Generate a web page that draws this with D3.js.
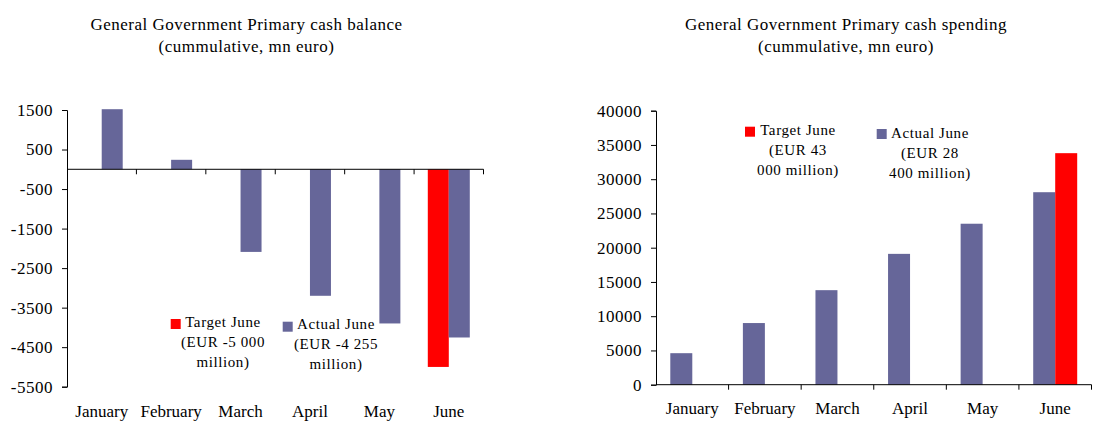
<!DOCTYPE html>
<html>
<head>
<meta charset="utf-8">
<script src="https://cdn.jsdelivr.net/npm/d3@7"></script>
<style>
  html, body { margin: 0; padding: 0; background: #fff; }
  svg { display: block; }
  svg text { font-family: "Liberation Serif", "Times New Roman", serif !important; fill: #000; }
</style>
</head>
<body>
<svg id="chart" width="1106" height="421" font-family="Liberation Serif"></svg>
<script>
const months = ["January", "February", "March", "April", "May", "June"];

// Left chart: cumulative primary cash balance (mn euro)
const balanceActual = [1520, 240, -2090, -3200, -3900, -4255];
const balanceTarget = [null, null, null, null, null, -5000];
const balanceTicks = [1500, 500, -500, -1500, -2500, -3500, -4500, -5500];

// Right chart: cumulative primary cash spending (mn euro)
const spendingActual = [4600, 9000, 13800, 19100, 23500, 28100];
const spendingTarget = [null, null, null, null, null, 33800];
const spendingTicks = [0, 5000, 10000, 15000, 20000, 25000, 30000, 35000, 40000];

const titleLine1Left = "General Government Primary cash balance";
const titleLine1Right = "General Government Primary cash spending";
const titleLine2 = "(cummulative, mn euro)";

const legendLeft = [
  {key: "target", lines: ["Target June", "(EUR -5 000", "million)"]},
  {key: "actual", lines: ["Actual June", "(EUR -4 255", "million)"]}
];
const legendRight = [
  {key: "target", lines: ["Target June", "(EUR 43", "000 million)"]},
  {key: "actual", lines: ["Actual June", "(EUR 28", "400 million)"]}
];

const colors = {actual: "#666699", target: "#FF0000"};
const FONT = "'Liberation Serif', 'Times New Roman', serif";
const svg = d3.select("#chart");

function drawChart(cfg) {
  const g = svg.append("g").attr("font-family", FONT);
  const x = d3.scaleBand().domain(months).range([cfg.x0, cfg.x1])
    .paddingInner(cfg.pad).paddingOuter(cfg.pad / 2);
  const x1 = d3.scaleBand().domain(cfg.order).range([0, x.bandwidth()]);
  const y = d3.scaleLinear().domain(cfg.domain).range([cfg.yBottom, cfg.yTop]);

  // titles
  g.append("text").attr("x", cfg.titleX).attr("y", 30).attr("text-anchor", "middle")
    .style("font-size", "17px").style("letter-spacing", "0.5px").text(cfg.title);
  g.append("text").attr("x", cfg.titleX).attr("y", 52).attr("text-anchor", "middle")
    .style("font-size", "17px").style("letter-spacing", "0.5px").text(titleLine2);

  // bars
  const rows = months.map((m, i) => ({m, actual: cfg.actual[i], target: cfg.target[i]}));
  const grp = g.selectAll("g.grp").data(rows).join("g")
    .attr("transform", d => `translate(${x(d.m)},0)`);
  grp.selectAll("rect").data(d => cfg.order.map(k => ({k, v: d[k]})).filter(e => e.v != null))
    .join("rect")
    .attr("x", e => x1(e.k))
    .attr("width", x1.bandwidth())
    .attr("y", e => y(Math.max(0, e.v)))
    .attr("height", e => Math.abs(y(e.v) - y(0)))
    .attr("fill", e => colors[e.k]);

  // y axis
  const yAxis = d3.axisLeft(y).tickValues(cfg.ticks).tickSizeOuter(0).tickSize(5).tickPadding(9)
    .tickFormat(d => String(d));
  const ya = g.append("g").attr("transform", `translate(${cfg.x0},0)`).call(yAxis)
    .attr("font-family", FONT).attr("font-size", 17);
  ya.select(".domain").attr("stroke", "#000");
  ya.selectAll(".tick line").attr("stroke", "#000");
  ya.selectAll(".tick text").style("font-size", "17px").style("letter-spacing", "0.5px")
    .style("font-family", FONT);

  // x axis line at zero with category boundary ticks
  const y0 = y(0);
  g.append("line").attr("x1", cfg.x0).attr("x2", cfg.x1).attr("y1", y0).attr("y2", y0)
    .attr("stroke", "#000");
  const step = x.step();
  const bounds = months.map((m, i) => x(m) - x.paddingInner() * step / 2 + step);
  g.selectAll("line.xt").data(bounds).join("line")
    .attr("x1", d => d).attr("x2", d => d).attr("y1", y0).attr("y2", y0 + 5)
    .attr("stroke", "#000");

  // x labels
  g.selectAll("text.xl").data(months).join("text")
    .attr("x", d => x(d) + x.bandwidth() / 2)
    .attr("y", cfg.labelY).attr("text-anchor", "middle")
    .style("font-size", "17px").text(d => d);

  // legend
  cfg.legend.forEach((item, i) => {
    const p = cfg.legendPos[i];
    g.append("rect").attr("x", p.sx).attr("y", p.sy).attr("width", 10).attr("height", 10)
      .attr("fill", colors[item.key]);
    item.lines.forEach((line, j) => {
      g.append("text").attr("x", p.tx).attr("y", p.ty + j * 20).attr("text-anchor", "middle")
        .style("font-size", "15px").style("letter-spacing", "0.6px").text(line);
    });
  });
}

drawChart({
  x0: 67, x1: 483.5, pad: 0.395, domain: [-5500, 1500], yBottom: 386.7, yTop: 110,
  ticks: balanceTicks, actual: balanceActual, target: balanceTarget,
  order: ["target", "actual"], title: titleLine1Left, titleX: 246.5,
  labelY: 416.5,
  legend: legendLeft,
  legendPos: [{sx: 170.7, sy: 319, tx: 223, ty: 327}, {sx: 282.7, sy: 321.7, tx: 336, ty: 329}]
});

drawChart({
  x0: 656, x1: 1091.5, pad: 0.394, domain: [0, 40000], yBottom: 384.7, yTop: 110.7,
  ticks: spendingTicks, actual: spendingActual, target: spendingTarget,
  order: ["actual", "target"], title: titleLine1Right, titleX: 846,
  labelY: 414,
  legend: legendRight,
  legendPos: [{sx: 745, sy: 126.7, tx: 798, ty: 135}, {sx: 876.7, sy: 129, tx: 930, ty: 137.5}]
});
</script>
</body>
</html>
